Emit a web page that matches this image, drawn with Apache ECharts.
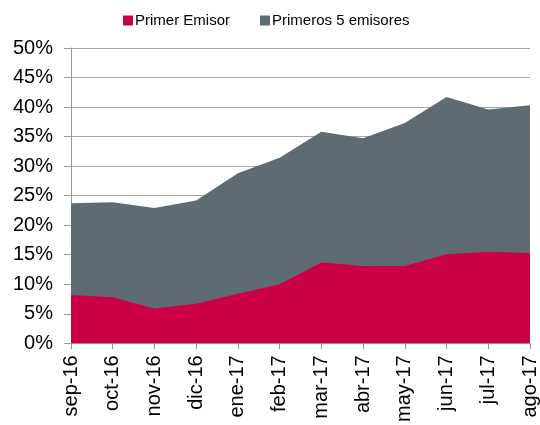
<!DOCTYPE html>
<html>
<head>
<meta charset="utf-8">
<script src="https://cdn.jsdelivr.net/npm/echarts@6/dist/echarts.min.js"></script>
<style>
  html, body { margin: 0; padding: 0; background: #fff; }
  #main { width: 540px; height: 425px; }
</style>
</head>
<body>
<div id="main"></div>
<script type="text/javascript">
var meses = ['sep-16', 'oct-16', 'nov-16', 'dic-16', 'ene-17', 'feb-17', 'mar-17', 'abr-17', 'may-17', 'jun-17', 'jul-17', 'ago-17'];
// % del total
var primerEmisor = [8.2, 7.8, 5.9, 6.7, 8.4, 10.0, 13.7, 13.1, 13.1, 15.1, 15.5, 15.3];
var primeros5 = [23.7, 23.9, 22.9, 24.2, 28.8, 31.4, 35.8, 34.7, 37.3, 41.7, 39.6, 40.3];

var rojo = '#cc0044';
var gris = '#5f6b73';

var chart = echarts.init(document.getElementById('main'));

var option = {
  animation: false,
  textStyle: { fontFamily: 'Liberation Sans, Arial, sans-serif' },
  legend: {
    top: 8,
    left: 118,
    itemWidth: 10,
    itemHeight: 10,
    itemGap: 30,
    icon: 'rect',
    textStyle: { fontSize: 15, color: '#000', padding: [0, 0, 0, -3] },
    data: ['Primer Emisor', 'Primeros 5 emisores']
  },
  grid: { left: 71, right: 10, top: 48, bottom: 81 },
  xAxis: {
    type: 'category',
    data: meses,
    boundaryGap: false,
    axisLine: { lineStyle: { color: '#999' } },
    axisTick: { show: true, length: 6, lineStyle: { color: '#999' } },
    axisLabel: { rotate: 90, fontSize: 20, color: '#000', margin: 12 }
  },
  yAxis: {
    type: 'value',
    min: 0,
    max: 50,
    interval: 5,
    axisLine: { show: true, lineStyle: { color: '#999' } },
    axisTick: { show: true, length: 7, lineStyle: { color: '#999' } },
    splitLine: { show: true, lineStyle: { color: '#a6a6a6' } },
    axisLabel: { fontSize: 20, color: '#000', margin: 18, formatter: '{value}%' }
  },
  series: [
    {
      name: 'Primeros 5 emisores',
      type: 'line',
      data: primeros5,
      symbol: 'none',
      lineStyle: { width: 0 },
      itemStyle: { color: gris },
      areaStyle: { color: gris, opacity: 1 },
      z: 2
    },
    {
      name: 'Primer Emisor',
      type: 'line',
      data: primerEmisor,
      symbol: 'none',
      lineStyle: { width: 0 },
      itemStyle: { color: rojo },
      areaStyle: { color: rojo, opacity: 1 },
      z: 3
    }
  ]
};

chart.setOption(option);
</script>
</body>
</html>
